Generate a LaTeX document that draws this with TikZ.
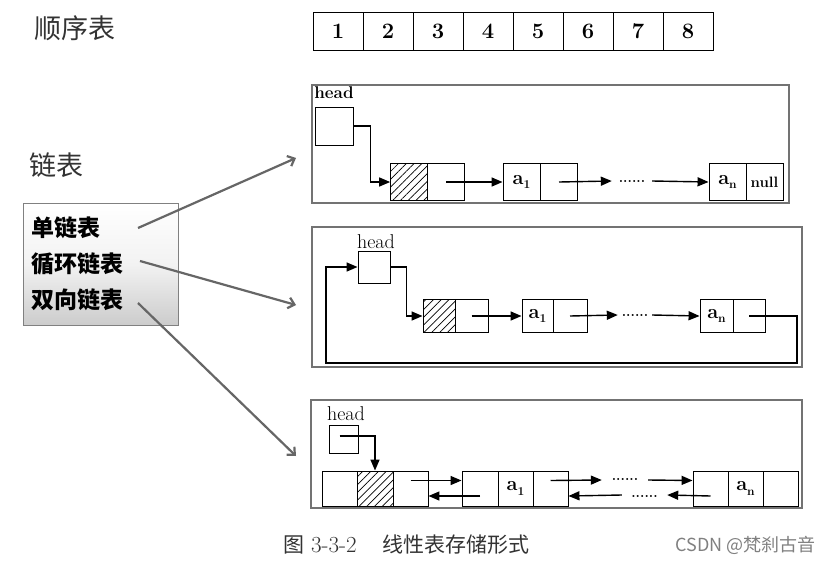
\documentclass[tikz,border=0pt]{standalone}
\usepackage{fontspec}
\newfontfamily\cjk{Noto Sans CJK SC}
\usetikzlibrary{arrows.meta,patterns.meta}
\newcommand{\elem}[1]{a\raisebox{-0.22em}{\fontsize{12}{12}\selectfont #1}}
\tikzset{
  cellbox/.style={draw, line width=0.9pt, inner sep=0pt, minimum width=37pt, minimum height=37pt,
    font=\bfseries\fontsize{20}{20}\selectfont},
  hatchbox/.style={cellbox, pattern={Lines[angle=45,distance=5.5pt,line width=0.7pt]}},
  arrcell/.style={draw, line width=0.9pt, inner sep=0pt, minimum width=50pt, minimum height=38pt,
    font=\bfseries\fontsize{22}{22}\selectfont},
  ptr/.style={line width=1.4pt, -{Triangle[length=11pt,width=9pt]}},
  panel/.style={draw=black!55, line width=1.3pt},
  dotsn/.style={inner sep=0pt, font=\bfseries\fontsize{14}{14}\selectfont},
  headlbl/.style={inner sep=0pt, font=\fontsize{20}{20}\selectfont},
  bigcjk/.style={inner sep=0pt, text=black!80, font=\cjk\fontsize{27}{27}\selectfont},
  lbtext/.style={inner sep=0pt, anchor=west, font=\cjk\bfseries\fontsize{23}{23}\selectfont},
  grayarrow/.style={draw=black!60, line width=2.2pt, -{Straight Barb[length=6pt,width=11pt]}}
}
\begin{document}
\begin{tikzpicture}[x=1pt,y=-1pt]
\useasboundingbox (0,0) rectangle (830,562);
\fill[white] (0,0) rectangle (830,562);

% sequential list
\node[bigcjk, anchor=west] (seqlbl) at (34,28) {顺序表};
\foreach \i in {1,...,8} {
  \node[arrcell] (arr\i) at ({338+50*(\i-1)},31) {\i};
}

% linked list label and box
\node[bigcjk, anchor=west] (linklbl) at (29,165) {链表};
\node[draw=black!50, line width=0.8pt, top color=white, bottom color=black!20, middle color=black!5,
      minimum width=155pt, minimum height=122pt, inner sep=0pt] (lb) at (100.5,264) {};
\node[lbtext] (t1) at (31,228) {单链表};
\node[lbtext] (t2) at (31,264) {循环链表};
\node[lbtext] (t3) at (31,300) {双向链表};
\coordinate (s1) at (138,228);
\coordinate (e1) at (296,158);
\coordinate (s2) at (140,261);
\coordinate (e2) at (296,305);
\coordinate (s3) at (138,303);
\coordinate (e3) at (296,456);
\draw[grayarrow] (s1) -- (e1);
\draw[grayarrow] (s2) -- (e2);
\draw[grayarrow] (s3) -- (e3);

% ---------- panel 1: singly linked ----------
\draw[panel] (312,85) rectangle (789,203);
\node[headlbl, font=\bfseries\fontsize{17}{17}\selectfont] (h1) at (334,93) {head};
\node[cellbox, minimum width=38pt, minimum height=38pt] (hb1) at (334,126) {};
\node[hatchbox] (p1a) at (409,182) {};
\node[cellbox] (p1b) at (446,182) {};
\node[cellbox] (p1c) at (521.5,182) {\elem{1}};
\node[cellbox] (p1d) at (559,182) {};
\node[dotsn, minimum width=40pt] (p1dots) at (632,181) {......};
\node[cellbox] (p1e) at (727.5,182) {\elem{n}};
\node[cellbox, font=\bfseries\fontsize{15}{15}\selectfont] (p1f) at (764.5,182) {null};
\draw[ptr] (hb1.east) -- ++(17,0) |- (p1a.west);
\draw[ptr] (p1b.center) -- (p1c.west);
\draw[ptr] (p1d.center) -- (p1dots.west);
\draw[ptr] (p1dots.east) -- (p1e.west);

% ---------- panel 2: circular ----------
\draw[panel] (312,227) rectangle (802,367);
\node[headlbl] (h2) at (376,242) {head};
\node[cellbox, minimum width=32pt, minimum height=32pt] (hb2) at (374,267) {};
\node[hatchbox, minimum width=32pt, minimum height=33pt] (p2a) at (439,316) {};
\node[cellbox, minimum width=33pt, minimum height=33pt] (p2b) at (471.5,316) {};
\node[cellbox, minimum width=31pt, minimum height=33pt] (p2c) at (537.5,316) {\elem{1}};
\node[cellbox, minimum width=34pt, minimum height=33pt] (p2d) at (570,316) {};
\node[dotsn, minimum width=34pt] (p2dots) at (635,315) {......};
\node[cellbox, minimum width=33pt, minimum height=33pt] (p2e) at (716.5,316) {\elem{n}};
\node[cellbox, minimum width=32pt, minimum height=33pt] (p2f) at (749,316) {};
\coordinate (c2a) at (797,363);
\coordinate (c2b) at (326,363);
\draw[ptr] (hb2.east) -- ++(16,0) |- (p2a.west);
\draw[ptr] (p2b.center) -- (p2c.west);
\draw[ptr] (p2d.center) -- (p2dots.west);
\draw[ptr] (p2dots.east) -- (p2e.west);
\draw[ptr] (p2f.center) -| (c2a) -- (c2b) |- (hb2.west);

% ---------- panel 3: doubly linked ----------
\draw[panel] (311,400) rectangle (802,508);
\node[headlbl] (h3) at (346,414) {head};
\node[cellbox, minimum width=29pt, minimum height=28pt] (hb3) at (343.5,439) {};
\node[cellbox, minimum width=35pt, minimum height=35pt] (p3a) at (339.5,488.5) {};
\node[hatchbox, minimum width=36pt, minimum height=35pt] (p3b) at (375,488.5) {};
\node[cellbox, minimum width=35pt, minimum height=35pt] (p3c) at (410.5,488.5) {};
\node[cellbox, minimum width=36pt, minimum height=35pt] (p3d) at (480,488.5) {};
\node[cellbox, minimum width=35pt, minimum height=35pt] (p3e) at (515.5,488.5) {\elem{1}};
\node[cellbox, minimum width=35pt, minimum height=35pt] (p3f) at (550.5,488.5) {};
\node[dotsn, minimum width=46pt] (p3dotsa) at (625,479) {......};
\node[dotsn, minimum width=45pt] (p3dotsb) at (644.5,496) {......};
\node[cellbox, minimum width=35pt, minimum height=35pt] (p3g) at (710.5,488.5) {};
\node[cellbox, minimum width=35pt, minimum height=35pt] (p3h) at (745.5,488.5) {\elem{n}};
\node[cellbox, minimum width=35pt, minimum height=35pt] (p3i) at (780.5,488.5) {};
\draw[ptr] ([xshift=-4pt,yshift=3pt]hb3.center) -| (p3b.north);
\draw[ptr] ([yshift=8pt]p3c.center) -- ([yshift=8pt]p3d.west);
\draw[ptr] ([yshift=-7.5pt]p3d.center) -- ([yshift=-7.5pt]p3c.east);
\draw[ptr] ([yshift=8pt]p3f.center) -- ([yshift=-1pt]p3dotsa.west);
\draw[ptr] ([yshift=-1pt]p3dotsa.east) -- ([yshift=8pt]p3g.west);
\draw[ptr] ([yshift=-7.5pt]p3g.center) -- ([yshift=1pt]p3dotsb.east);
\draw[ptr] ([yshift=1pt]p3dotsb.west) -- ([yshift=-7.5pt]p3f.east);

% caption and watermark
\node[inner sep=0pt, anchor=west, text=black!80, font=\fontsize{23}{23}\selectfont] (cap) at (283,545)
  {{\cjk\fontsize{21}{21}\selectfont 图} 3-3-2\hspace{26pt}{\cjk\fontsize{21}{21}\selectfont 线性表存储形式}};
\node[inner sep=0pt, anchor=east, text=black!50, font=\cjk\fontsize{18}{18}\selectfont] (wm) at (816,545)
  {CSDN @梵刹古音};
\end{tikzpicture}
\end{document}
